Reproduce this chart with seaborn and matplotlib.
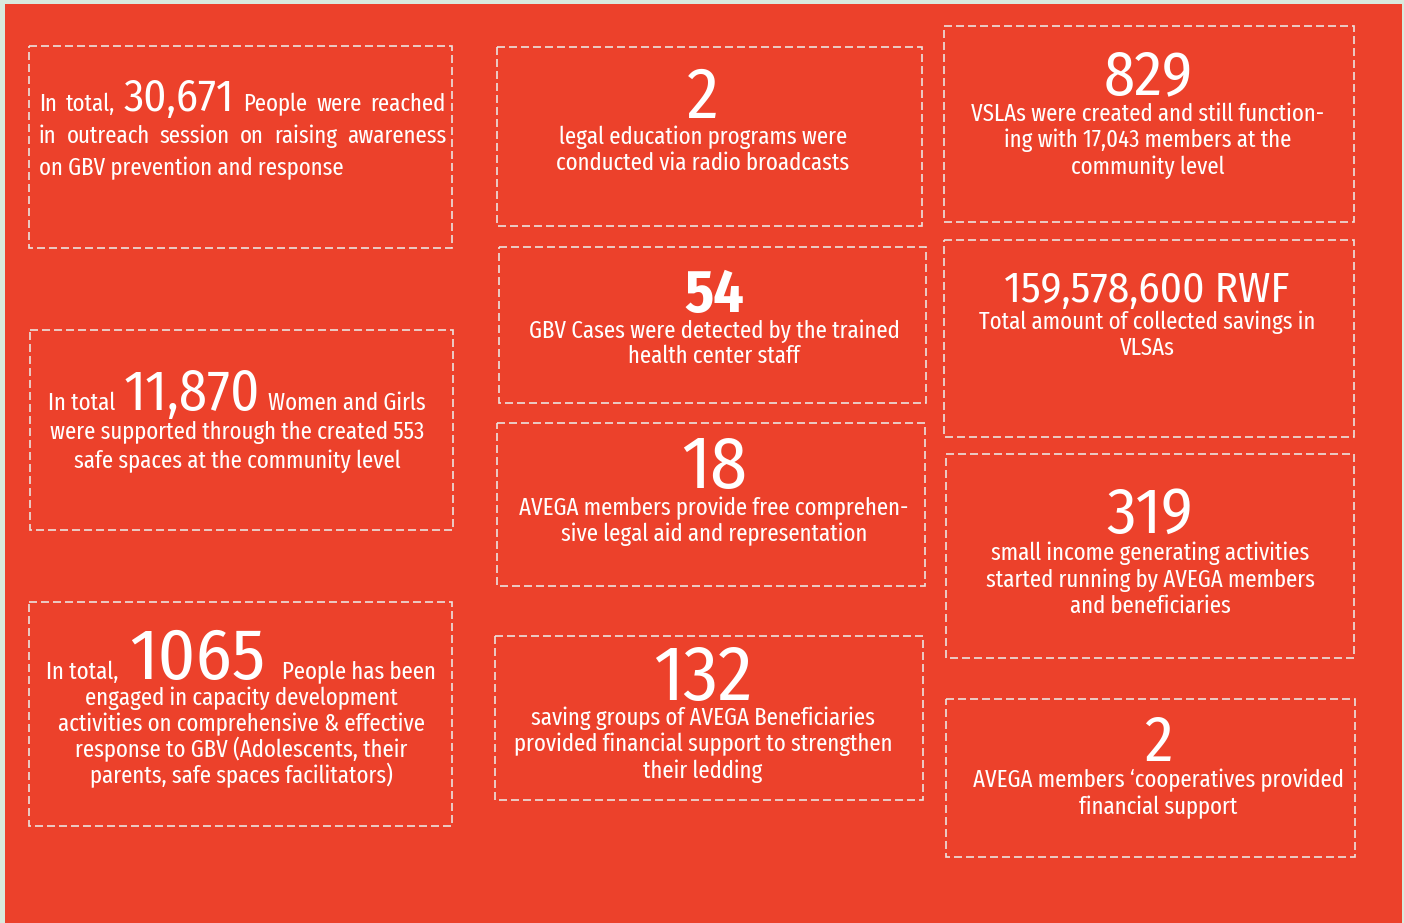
import matplotlib
matplotlib.use("Agg")
import matplotlib.pyplot as plt
import seaborn as sns
from matplotlib.patches import Rectangle
from matplotlib import font_manager

sns.set_theme(style="white")
available = {f.name for f in font_manager.fontManager.ttflist}


def first_available(names):
    return next(f for f in names if f in available)


text_font = first_available(["Fira Sans Extra Condensed", "Fira Sans Condensed",
                             "Roboto Condensed", "PT Sans Narrow", "Liberation Sans Narrow",
                             "DejaVu Sans"])
num_font = first_available(["Fira Sans Condensed", "Fira Sans Extra Condensed",
                            "Roboto Condensed", "PT Sans Narrow", "Liberation Sans Narrow",
                            "DejaVu Sans"])
plt.rcParams["font.family"] = [text_font, "DejaVu Sans"]

# ---------------- data ----------------
stat_values = ["30,671", "11,870", "1065", "2", "54", "18", "132",
               "829", "159,578,600 RWF", "319", "2"]
stat_lead = ["In total,", "In total", "In total,", "", "", "", "", "", "", "", ""]
stat_tail = ["People were reached", "Women and Girls", "People has been",
             "", "", "", "", "", "", "", ""]
stat_captions = [
    ["in outreach session on raising awareness", "on GBV prevention and response"],
    ["were supported through the created 553", "safe spaces at the community level"],
    ["engaged in capacity development", "activities on comprehensive & effective",
     "response to GBV (Adolescents, their", "parents, safe spaces facilitators)"],
    ["legal education programs were", "conducted via radio broadcasts"],
    ["GBV Cases were detected by the trained", "health center staff"],
    ["AVEGA members provide free comprehen-", "sive legal aid and representation"],
    ["saving groups of AVEGA Beneficiaries", "provided financial support to strengthen",
     "their ledding"],
    ["VSLAs were created and still function-", "ing with 17,043 members at the",
     "community level"],
    ["Total amount of collected savings in", "VLSAs"],
    ["small income generating activities", "started running by AVEGA members",
     "and beneficiaries"],
    ["AVEGA members \u2018cooperatives provided", "financial support"],
]

# ---------------- layout ----------------
W, H = 1404, 923
RED = "#ec412b"
EDGE = "#d9eadd"
DASH = "#ebe3df"
boxes = [(29, 46, 452, 248), (30, 330, 453, 530), (29, 602, 452, 826),
         (497, 47, 922, 226), (499, 247, 926, 403), (497, 423, 925, 586),
         (495, 636, 923, 800),
         (944, 26, 1354, 222), (944, 240, 1354, 437), (946, 454, 1354, 658),
         (946, 699, 1355, 857)]
number_baseline = [111, 410, 679, 118, 312, 488, 700, 94, 302, 533, 761]
number_height_px = [30, 38, 49, 48, 40, 50, 52, 42, 29, 44, 43]
number_weight = ["normal"] * 4 + ["bold"] + ["normal"] * 6
caption_baseline = [143, 439, 705, 144, 338, 515, 725, 121, 329, 560, 787]
line_step = [32, 29, 26, 26, 25, 26, 26.5, 26.5, 26, 26.5, 27]
center_x = [242, 237, 241, 703, 714, 714, 703, 1148, 1147, 1150, 1158]
lead_gap = [0, 8, 10, 0, 0, 0, 0, 0, 0, 0, 0]
tail_gap = [0, 8, 17, 0, 0, 0, 0, 0, 0, 0, 0]
just_left, just_right = 39, 446

fig = plt.figure(figsize=(W / 100, H / 100), dpi=100)
fig.patch.set_facecolor(EDGE)
ax = fig.add_axes([0, 0, 1, 1])
ax.set_xlim(0, W)
ax.set_ylim(H, 0)
ax.axis("off")
ax.add_patch(Rectangle((5, 4), 1397, 925, facecolor=RED, edgecolor="none", zorder=0))

renderer = fig.canvas.get_renderer()


def put(x, y, s, size, weight="normal", ha="left", fam=None):
    return ax.text(x, y, s, fontsize=size, fontweight=weight, color="white",
                   ha=ha, va="baseline", zorder=3,
                   family=[fam or text_font, "DejaVu Sans"])


def width(t):
    return t.get_window_extent(renderer=renderer).width


def measure(s, size, weight="normal", fam=None):
    t = put(0, 0, s, size, weight, fam=fam)
    w = width(t)
    t.remove()
    return w


# calibrate sizes on the reference's measured widths
CAP = 18 * 372 / measure(stat_captions[4][0], 18)
ref_num = 30 * 286 / measure(stat_values[8], 30, fam=num_font)
number_size = [ref_num * h / number_height_px[8] for h in number_height_px]


def justified(words, y):
    texts = [put(0, y, w, sz, wt, fam=fm) for (w, sz, wt, fm) in words]
    ws = [width(t) for t in texts]
    gap = (just_right - just_left - sum(ws)) / (len(words) - 1)
    x = just_left
    for t, w in zip(texts, ws):
        t.set_x(x)
        x += w + gap


def centered_segments(segs, cx, y):
    texts, gaps = [], []
    for (s, sz, wt, fm, g) in segs:
        texts.append(put(0, y, s, sz, wt, fam=fm))
        gaps.append(g)
    ws = [width(t) for t in texts]
    total = sum(ws) + sum(gaps[1:])
    x = cx - total / 2
    for i, (t, w) in enumerate(zip(texts, ws)):
        if i > 0:
            x += gaps[i]
        t.set_x(x)
        x += w


for i, (l, t, r, b) in enumerate(boxes):
    ax.add_patch(Rectangle((l, t), r - l, b - t, fill=False, edgecolor=DASH,
                           linewidth=1.2, linestyle=(0, (4.8, 2.4)), zorder=2))
    nb = number_baseline[i]
    if i == 0:
        words = [(w, CAP, "normal", None) for w in stat_lead[i].split()]
        words += [(stat_values[i], number_size[i], number_weight[i], num_font)]
        words += [(w, CAP, "normal", None) for w in stat_tail[i].split()]
        justified(words, nb)
        caps = stat_captions[i]
        justified([(w, CAP, "normal", None) for w in caps[0].split()], caption_baseline[i])
        put(just_left, caption_baseline[i] + line_step[i], caps[1], CAP)
        continue
    if stat_lead[i]:
        centered_segments([(stat_lead[i], CAP, "normal", None, 0),
                           (stat_values[i], number_size[i], number_weight[i], num_font,
                            lead_gap[i]),
                           (stat_tail[i], CAP, "normal", None, tail_gap[i])],
                          center_x[i], nb)
    else:
        put(center_x[i], nb, stat_values[i], number_size[i], number_weight[i],
            ha="center", fam=num_font)
    for k, line in enumerate(stat_captions[i]):
        put(center_x[i], caption_baseline[i] + k * line_step[i], line, CAP, ha="center")

fig.savefig("out.png", dpi=100, facecolor=EDGE)
